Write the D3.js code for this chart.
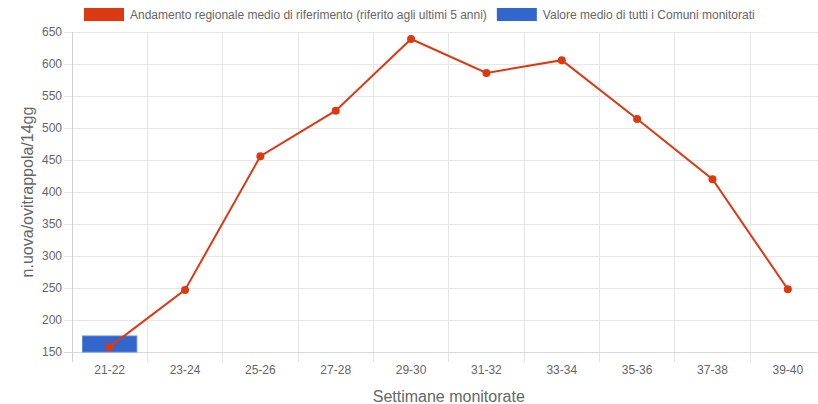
<!DOCTYPE html>
<html><head><meta charset="utf-8">
<script src="https://cdn.jsdelivr.net/npm/d3@7"></script>
<style>
html,body{margin:0;padding:0;background:#fff;overflow:hidden}
text{font-family:"Liberation Sans",Arial,Helvetica,sans-serif}
</style></head>
<body><svg id="c" width="818" height="404"></svg>
<script>
const categories = ["21-22","23-24","25-26","27-28","29-30","31-32","33-34","35-36","37-38","39-40"];
const lineValues = [158,247,456,527,639,586,606,514,420,248];
const barValues = [175,null,null,null,null,null,null,null,null,null];
const yTicks = [150,200,250,300,350,400,450,500,550,600,650];
const seriesNames = ["Andamento regionale medio di riferimento (riferito agli ultimi 5 anni)","Valore medio di tutti i Comuni monitorati"];
const colors = ["#dc3912","#3366cc"];

(function(){
const svg = d3.select("#c");
const pL = 72, pR = 825.5, pT = 32, pB = 352;
const x = d3.scaleBand().domain(categories).range([pL, pR]);
const y = d3.scaleLinear().domain([150,650]).range([pB, pT]);
const grid = "#e6e6e6", txt = "#666";

const gy = svg.append("g");
yTicks.forEach(v => {
  gy.append("line").attr("x1", pL-8).attr("x2", pR).attr("y1", y(v)).attr("y2", y(v))
    .attr("stroke", grid).attr("stroke-width", 1).attr("shape-rendering","crispEdges");
  gy.append("text").attr("x", pL-10).attr("y", y(v)).attr("dy","0.35em").attr("text-anchor","end")
    .attr("font-size", 12).attr("fill", txt).text(v);
});
const gx = svg.append("g");
categories.forEach((c,i) => {
  gx.append("line").attr("x1", x(c)).attr("x2", x(c)).attr("y1", pT).attr("y2", pB+10)
    .attr("stroke", grid).attr("shape-rendering","crispEdges");
  gx.append("text").attr("x", x(c)+x.bandwidth()/2).attr("y", 370).attr("dy","0.35em").attr("text-anchor","middle")
    .attr("font-size", 12).attr("fill", txt).text(c);
});
svg.append("line").attr("x1", pL).attr("x2", pL).attr("y1", pT).attr("y2", pB+10)
  .attr("stroke", "#d0d0d0").attr("shape-rendering","crispEdges");
svg.append("line").attr("x1", pL-8).attr("x2", pR).attr("y1", pB).attr("y2", pB)
  .attr("stroke", "#d9d9d9").attr("shape-rendering","crispEdges");

const bw = x.bandwidth()*0.72;
svg.append("g").selectAll("rect").data(categories.map((c,i)=>({c, v: barValues[i]})).filter(d=>d.v!=null))
  .join("rect")
  .attr("x", d => x(d.c)+x.bandwidth()/2-bw/2).attr("width", bw)
  .attr("y", d => y(d.v)).attr("height", d => y(150)-y(d.v))
  .attr("fill", colors[1]).attr("stroke", "#5b86dd").attr("stroke-width", 1);

const pts = categories.map((c,i)=>({c, v: lineValues[i]}));
svg.append("path").datum(pts)
  .attr("d", d3.line().x(d=>x(d.c)+x.bandwidth()/2).y(d=>y(d.v)))
  .attr("fill","none").attr("stroke", colors[0]).attr("stroke-width", 2);
svg.append("g").selectAll("circle").data(pts).join("circle")
  .attr("cx", d=>x(d.c)+x.bandwidth()/2).attr("cy", d=>y(d.v)).attr("r", 4)
  .attr("fill", colors[0]);

svg.append("text").attr("x", (pL+pR)/2).attr("y", 396).attr("dy","0.35em").attr("text-anchor","middle")
  .attr("font-size", 16).attr("fill", txt).text("Settimane monitorate");
svg.append("text").attr("transform", `translate(27,${(pT+pB)/2}) rotate(-90)`)
  .attr("dy","0.35em").attr("text-anchor","middle").attr("font-size", 16).attr("fill", txt)
  .text("n.uova/ovitrappola/14gg");

const lg = svg.append("g");
let lx = 84;
seriesNames.forEach((n,i) => {
  lg.append("rect").attr("x", lx).attr("y", 8).attr("width", 40).attr("height", 13).attr("fill", colors[i]);
  const t = lg.append("text").attr("x", lx+46).attr("y", 15).attr("dy","0.35em")
    .attr("font-size", 12).attr("fill", txt).text(n);
  lx += 46 + t.node().getComputedTextLength() + 10;
});
})();
</script></body></html>
